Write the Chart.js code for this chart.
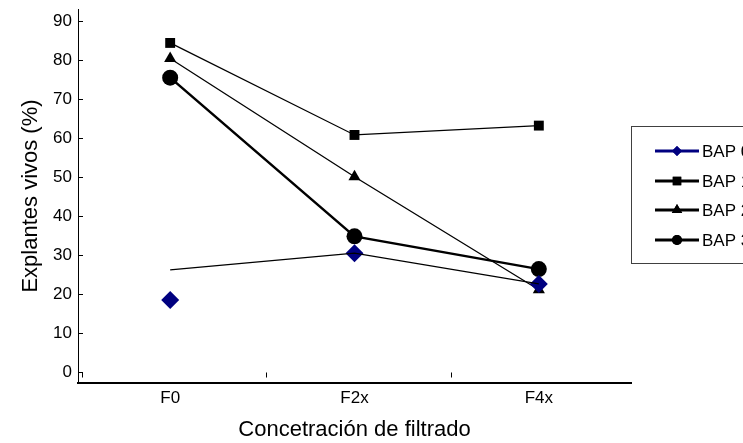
<!DOCTYPE html>
<html>
<head>
<meta charset="utf-8">
<script src="https://cdn.jsdelivr.net/npm/chart.js@4"></script>
<style>
  html, body { margin: 0; padding: 0; background: #fff; overflow: hidden; }
</style>
</head>
<body>
<canvas id="line-chart" width="743" height="443"></canvas>
<script>
const categories = ['F0', 'F2x', 'F4x'];
const bap0 = [18.5, 30.5, 22.6];
const bap0Line = [26.2, 30.5, 22.6];
const bap1 = [84.4, 60.8, 63.2];
const bap2 = [80.4, 50.1, 21.1];
const bap3 = [75.5, 34.8, 26.4];
const yTicks = [0, 10, 20, 30, 40, 50, 60, 70, 80, 90];
const legendLabels = ['BAP 0', 'BAP 1', 'BAP 2', 'BAP 3'];

const font = 'Liberation Sans, Arial, sans-serif';

// small tick marks: y ticks point inward, category ticks hang below the zero line
const tickPlugin = {
    id: 'innerTicks',
    afterDraw(chart) {
        const ctx = chart.ctx;
        const x = chart.scales.x;
        const y = chart.scales.y;
        const zero = Math.round(y.getPixelForValue(0)) + 0.5;
        const step = (x.right - x.left) / categories.length;
        ctx.save();
        ctx.strokeStyle = '#000';
        ctx.lineWidth = 1;
        ctx.beginPath();
        yTicks.forEach(v => {
            const py = Math.round(y.getPixelForValue(v)) + 0.5;
            ctx.moveTo(x.left, py);
            ctx.lineTo(x.left + 5, py);
        });
        for (let i = 0; i < categories.length; i++) {
            const px = Math.round(x.left + 4 + step * i) + 0.5;
            ctx.moveTo(px, zero);
            ctx.lineTo(px, zero + 5);
        }
        ctx.stroke();
        ctx.restore();
    }
};

// legend box on the right, cut by the edge of the picture
const legendPlugin = {
    id: 'boxLegend',
    afterDraw(chart) {
        const ctx = chart.ctx;
        const bx = 631, by = 126, bh = 137;
        ctx.save();
        ctx.strokeStyle = '#404040';
        ctx.lineWidth = 1;
        ctx.strokeRect(bx + 0.5, by + 0.5, 200, bh);
        const rows = [151, 181, 210, 240];
        const colors = ['#000080', '#000', '#000', '#000'];
        const styles = ['rectRot', 'rect', 'triangle', 'circle'];
        const sizes = [5, 6, 6, 5];
        ctx.font = '17px ' + font;
        ctx.textBaseline = 'middle';
        legendLabels.forEach((label, i) => {
            const yy = rows[i];
            ctx.strokeStyle = colors[i];
            ctx.lineWidth = 3;
            ctx.beginPath();
            ctx.moveTo(655, yy);
            ctx.lineTo(699, yy);
            ctx.stroke();
            ctx.fillStyle = colors[i];
            Chart.helpers.drawPoint(ctx, {pointStyle: styles[i], radius: sizes[i], borderWidth: 0}, 677, yy);
            ctx.fill();
            ctx.fillStyle = '#000';
            ctx.fillText(label, 702, yy + 1);
        });
        ctx.restore();
    }
};

new Chart(document.getElementById('line-chart'), {
    type: 'line',
    data: {
        labels: categories,
        datasets: [
            {
                label: 'BAP 0 linea',
                data: bap0Line,
                borderColor: '#000',
                borderWidth: 1.3,
                pointRadius: 0,
                pointHoverRadius: 0
            },
            {
                label: legendLabels[0],
                data: bap0,
                showLine: false,
                pointStyle: 'rectRot',
                pointRadius: 9,
                backgroundColor: '#000080',
                borderColor: '#000080',
                borderWidth: 0
            },
            {
                label: legendLabels[1],
                data: bap1,
                borderColor: '#000',
                backgroundColor: '#000',
                borderWidth: 1.3,
                pointStyle: 'rect',
                pointRadius: 7,
                pointBorderWidth: 0
            },
            {
                label: legendLabels[2],
                data: bap2,
                borderColor: '#000',
                backgroundColor: '#000',
                borderWidth: 1.3,
                pointStyle: 'triangle',
                pointRadius: 7,
                pointBorderWidth: 0
            },
            {
                label: legendLabels[3],
                data: bap3,
                borderColor: '#000',
                backgroundColor: '#000',
                borderWidth: 2.5,
                pointStyle: 'circle',
                pointRadius: 8,
                pointBorderWidth: 0
            }
        ]
    },
    options: {
        responsive: false,
        animation: false,
        devicePixelRatio: 1,
        layout: { padding: { top: 7, right: 112, left: 0, bottom: 0 } },
        plugins: {
            legend: { display: false },
            tooltip: { enabled: false }
        },
        scales: {
            x: {
                offset: true,
                afterFit(axis) {
                    axis.height = 60;
                    axis.paddingLeft = 0;
                    axis.paddingRight = 0;
                },
                grid: { display: false, drawTicks: false },
                border: { color: '#000', width: 2 },
                ticks: { color: '#000', font: { family: font, size: 17 }, padding: 5 },
                title: {
                    display: true,
                    text: 'Concetración de filtrado',
                    color: '#000',
                    font: { family: font, size: 22 },
                    padding: { top: 0, bottom: 0 }
                }
            },
            y: {
                min: -2.8,
                max: 93.1,
                afterBuildTicks(axis) {
                    axis.ticks = yTicks.map(v => ({ value: v }));
                },
                afterFit(axis) {
                    axis.width = 78;
                    axis.paddingTop = 0;
                    axis.paddingBottom = 0;
                },
                grid: { display: false, drawTicks: false },
                border: { color: '#000', width: 1 },
                ticks: { color: '#000', font: { family: font, size: 17 }, padding: 6 },
                title: {
                    display: true,
                    text: 'Explantes vivos (%)',
                    color: '#000',
                    font: { family: font, size: 22 },
                    padding: { top: 18, bottom: 0 }
                }
            }
        }
    },
    plugins: [tickPlugin, legendPlugin]
});
</script>
</body>
</html>
